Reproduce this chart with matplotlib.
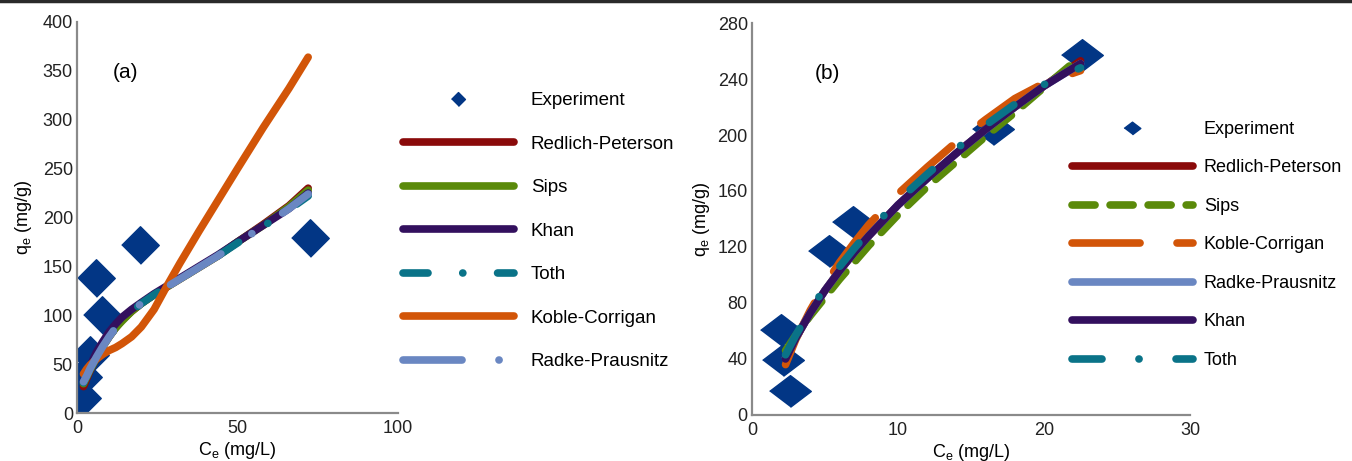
import matplotlib
matplotlib.use('Agg')
import matplotlib.pyplot as plt
from matplotlib.lines import Line2D

plt.rcParams['font.family'] = ['Liberation Sans', 'DejaVu Sans']
plt.rcParams['lines.scale_dashes'] = False

# ---- panel (a) data ----
exp_a_x = [1.5, 2.0, 4.0, 6.0, 7.7, 19.6, 72.6]
exp_a_y = [15, 37, 59, 138, 100, 172, 179]

fit_a_x = [2, 3, 4, 6, 8, 10, 12, 14, 17, 20, 24, 28, 32, 38, 44, 50, 58, 66, 72]
redlich_a = [27, 35, 43, 56, 68, 78, 87, 95, 104, 112, 121, 129, 137, 149, 161, 175, 193, 212, 230]
sips_a = [30, 37, 44, 56, 68, 78, 87, 94, 104, 112, 121, 129, 137, 149, 161, 175, 192, 211, 228]
khan_a = [32, 40, 48, 62, 73, 83, 91, 98, 106, 113, 122, 130, 138, 150, 162, 175, 192, 209, 225]
toth_a = [31, 38, 45, 57, 68, 78, 87, 94, 104, 112, 121, 129, 137, 149, 161, 174, 191, 208, 222]
koble_a = [40, 45, 49, 55, 60, 64, 67, 71, 78, 88, 106, 130, 153, 186, 218, 250, 292, 332, 364]
radke_a = [32, 38, 45, 57, 68, 78, 87, 94, 104, 112, 121, 129, 137, 149, 161, 174, 191, 209, 224]

# ---- panel (b) data ----
exp_b_x = [2.0, 2.1, 2.6, 5.3, 6.9, 16.5, 22.6]
exp_b_y = [61, 39, 17, 117, 138, 204, 257]

fit_b_x = [2.3, 3, 4, 5, 6, 7, 8, 10, 12, 14, 16, 18, 20, 22.5]
redlich_b = [41, 55, 73, 89, 103, 116, 128, 150, 169, 187, 204, 220, 235, 253]
sips_b = [46, 57, 71, 84, 97, 109, 121, 143, 163, 181, 199, 216, 234, 256]
koble_b = [36, 54, 75, 93, 109, 123, 136, 158, 177, 195, 211, 226, 237, 246]
radke_b = [41, 55, 73, 89, 103, 116, 128, 150, 169, 187, 204, 220, 235, 251]
khan_b = [40, 55, 73, 89, 103, 116, 128, 150, 169, 187, 204, 220, 235, 251]
toth_b = [43, 57, 75, 91, 106, 119, 131, 153, 172, 190, 207, 222, 236, 248]

C_EXP = '#023685'
C_RED = '#8a0a0a'
C_GREEN = '#5a8a0a'
C_PURPLE = '#33105e'
C_TEAL = '#0a7388'
C_ORANGE = '#d25508'
C_LBLUE = '#6a87c2'

LW = 5.5

diamond_sq = [(-1, 0), (0, 1), (1, 0), (0, -1)]
diamond_wide = [(-1, 0), (0, 0.76), (1, 0), (0, -0.76)]


def style_axes(ax):
    for s in ['top', 'right']:
        ax.spines[s].set_visible(False)
    for s in ['left', 'bottom']:
        ax.spines[s].set_color('#8a8a8a')
        ax.spines[s].set_linewidth(1.6)
    ax.tick_params(length=0, labelsize=13, colors='#222222')
    ax.tick_params(axis='y', pad=3)
    ax.tick_params(axis='x', pad=5)


fig = plt.figure(figsize=(13.52, 4.61), dpi=100)

# top rule
fig.add_artist(Line2D([0, 1], [0.997, 0.997], transform=fig.transFigure,
                      color='#2a2a2a', lw=2.5))

kw = dict(lw=LW, solid_capstyle='round', dash_capstyle='round')

# ---------------- panel (a) ----------------
ax1 = fig.add_axes([0.057, 0.1041, 0.2374, 0.8482])
ax1.plot(exp_a_x, exp_a_y, ls='none', marker=diamond_sq, ms=27,
         color=C_EXP, label='Experiment')
ax1.plot(fit_a_x, redlich_a, color=C_RED, label='Redlich-Peterson', **kw)
ax1.plot(fit_a_x, sips_a, color=C_GREEN, label='Sips', **kw)
ax1.plot(fit_a_x, khan_a, color=C_PURPLE, label='Khan', **kw)
ax1.plot(fit_a_x, toth_a, color=C_TEAL, dashes=(18, 25, 0.1, 25),
         label='Toth', **kw)
ax1.plot(fit_a_x, koble_a, color=C_ORANGE, label='Koble-Corrigan', **kw)
ax1.plot(fit_a_x, radke_a, color=C_LBLUE, dashes=(42.5, 26.6, 0.1, 26.6),
         label='Radke-Prausnitz', **kw)
ax1.set_xlim(0, 100)
ax1.set_ylim(0, 400)
ax1.set_xticks([0, 50, 100])
ax1.set_yticks(range(0, 401, 50))
style_axes(ax1)
ax1.set_xlabel(r'C$_\mathregular{e}$ (mg/L)', fontsize=13, labelpad=2.5)
ax1.set_ylabel(r'q$_\mathregular{e}$ (mg/g)', fontsize=13, labelpad=6)
ax1.text(0.112, 0.872, '(a)', transform=ax1.transAxes, fontsize=15,
         ha='left', va='center')
ax1.legend(loc='upper left', bbox_to_anchor=(402.5 / 1352, 1 - 92 / 461),
           bbox_transform=fig.transFigure, frameon=False, fontsize=13.5,
           borderpad=0, borderaxespad=0, handlelength=5.97,
           handletextpad=0.88, labelspacing=1.41, numpoints=1,
           markerscale=0.37)

# ---------------- panel (b) ----------------
ax2 = fig.add_axes([0.5562, 0.0998, 0.324, 0.8503])
ax2.plot(exp_b_x, exp_b_y, ls='none', marker=diamond_wide, ms=30,
         color=C_EXP, label='Experiment')
ax2.plot(fit_b_x, redlich_b, color=C_RED, label='Redlich-Peterson', **kw)
ax2.plot(fit_b_x, sips_b, color=C_GREEN, dashes=(16.6, 10.8),
         label='Sips', **kw)
ax2.plot(fit_b_x, koble_b, color=C_ORANGE, dashes=(49, 26.6),
         label='Koble-Corrigan', **kw)
ax2.plot(fit_b_x, radke_b, color=C_LBLUE, label='Radke-Prausnitz', **kw)
ax2.plot(fit_b_x, khan_b, color=C_PURPLE, label='Khan', **kw)
ax2.plot(fit_b_x, toth_b, color=C_TEAL, dashes=(21.6, 26.6, 0.1, 26.6),
         label='Toth', **kw)
ax2.set_xlim(0, 30)
ax2.set_ylim(0, 280)
ax2.set_xticks([0, 10, 20, 30])
ax2.set_yticks(range(0, 281, 40))
style_axes(ax2)
ax2.set_xlabel(r'C$_\mathregular{e}$ (mg/L)', fontsize=13, labelpad=2)
ax2.set_ylabel(r'q$_\mathregular{e}$ (mg/g)', fontsize=13, labelpad=4)
ax2.text(0.144, 0.872, '(b)', transform=ax2.transAxes, fontsize=15,
         ha='left', va='center')
ax2.legend(loc='upper left', bbox_to_anchor=(1071.5 / 1352, 1 - 121 / 461),
           bbox_transform=fig.transFigure, frameon=False, fontsize=13,
           borderpad=0, borderaxespad=0, handlelength=6.75,
           handletextpad=0.58, labelspacing=1.19, numpoints=1,
           markerscale=0.4)

fig.savefig('out.png', dpi=100)
